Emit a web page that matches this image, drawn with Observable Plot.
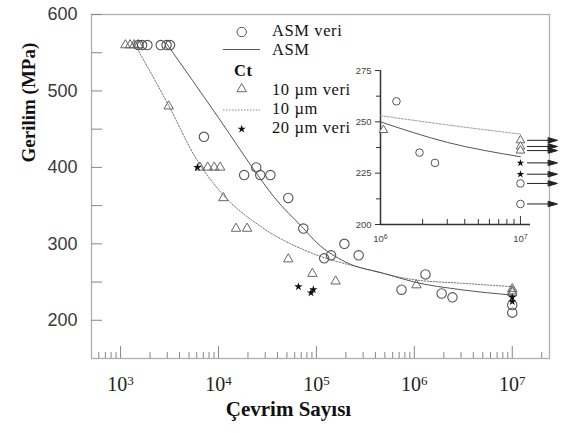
<!DOCTYPE html>
<html><head><meta charset="utf-8">
<script src="https://cdn.jsdelivr.net/npm/d3@7"></script>
<script src="https://cdn.jsdelivr.net/npm/@observablehq/plot@0.6"></script>
<style>
body{margin:0;background:#fff;}
#chart{position:relative;width:561px;height:433px;overflow:hidden;}
#chart > svg{position:absolute;}
</style></head><body><div id="chart"></div>
<script>
// ---------- data ----------
// ASM veri (circles)
const asmVeriN = [1520, 1660, 1880, 2570, 2950, 3200, 7100, 18300, 24300, 26700, 33900, 51600, 73500, 120000, 141000, 193000, 270000, 740000, 1300000, 1900000, 2450000, 1e7, 1e7];
const asmVeriS = [560, 560, 560, 560, 560, 560, 440, 390, 400, 390, 390, 360, 320, 281, 285, 300, 285, 240, 260, 235, 230, 220, 210];
// Ct 10 µm veri (triangles)
const ct10VeriN = [1120, 1250, 1380, 1520, 3100, 6450, 7760, 9040, 10400, 11200, 15100, 19600, 51600, 91000, 157000, 1050000, 1e7, 1e7, 1e7];
const ct10VeriS = [560, 560, 560, 560, 480, 400, 400, 400, 400, 360, 320, 320, 280, 261, 251, 246, 241, 238, 236];
// Ct 20 µm veri (stars)
const ct20VeriN = [6100, 65500, 88000, 93000, 1e7, 1e7];
const ct20VeriS = [400, 244, 236, 240, 230, 224.5];
// ASM fitted curve (solid)
const asmFitN = [2950, 10000, 27500, 37000, 74000, 100000, 200000, 500000, 1e6, 3e6, 1e7];
const asmFitS = [562, 465, 383, 361, 320, 302, 276, 261, 250, 240, 233];
// Ct 10 µm fitted curve (dotted)
const ct10FitN = [1380, 3100, 6000, 11000, 27500, 89000, 300000, 1e6, 3e6, 1e7];
const ct10FitS = [562, 481, 410, 365, 322, 288, 268, 253, 248.5, 244];

// ticks and texts
const xMajorTicks = [1e3, 1e4, 1e5, 1e6, 1e7];
const xMinorTicks = [600, 700, 800, 900, 2e3, 3e3, 4e3, 5e3, 6e3, 7e3, 8e3, 9e3, 2e4, 3e4, 4e4, 5e4, 6e4, 7e4, 8e4, 9e4,
  2e5, 3e5, 4e5, 5e5, 6e5, 7e5, 8e5, 9e5, 2e6, 3e6, 4e6, 5e6, 6e6, 7e6, 8e6, 9e6, 2e7];
const yLabelTicks = [200, 300, 400, 500, 600];
const yTickMarks = [200, 250, 300, 350, 400, 450, 500, 550, 600];
const insetYTicks = [200, 225, 250, 275];
const insetYMinor = [212.5, 237.5, 262.5];
const insetXMajor = [1e6, 1e7];
const insetXMinor = [2e6, 3e6, 4e6, 5e6, 6e6, 7e6, 8e6, 9e6];
const xTitle = "Çevrim Sayısı";
const yTitle = "Gerilim (MPa)";
const legendLabels = ["ASM veri", "ASM", "Ct", "10 µm veri", "10 µm", "20 µm veri"];

// ---------- tables ----------
const zip = (N, S) => N.map((n, i) => ({n, s: S[i]}));
const asmVeri = zip(asmVeriN, asmVeriS);
const ct10Veri = zip(ct10VeriN, ct10VeriS);
const ct20Veri = zip(ct20VeriN, ct20VeriS);
const asmFit = zip(asmFitN, asmFitS);
const ct10Fit = zip(ct10FitN, ct10FitS);

const serif = "'Liberation Serif', 'Times New Roman', serif";
const sans = "'Liberation Sans', Arial, sans-serif";
const expFmt = d => "10^" + Math.round(Math.log10(d));

function superscripts(svg, supSize) {
  d3.select(svg).selectAll("text").each(function () {
    const t = this.textContent;
    if (t.includes("^")) {
      const [base, exp] = t.split("^");
      const sel = d3.select(this);
      sel.text(base);
      sel.append("tspan").attr("dy", "-0.42em").attr("font-size", supSize).text(exp);
    }
  });
}

// ---------- main chart ----------
const W = 561, H = 433, mL = 91, mT = 14, mR = 12, mB = 75;
const fW = W - mL - mR, fH = H - mT - mB;
const main = Plot.plot({
  width: W, height: H, marginLeft: mL, marginTop: mT, marginRight: mR, marginBottom: mB,
  style: {fontFamily: serif, background: "white", color: "#222", overflow: "visible"},
  x: {type: "log", domain: [505, 2.4e7]},
  y: {domain: [150, 600]},
  marks: [
    Plot.frame({stroke: "#b0b0b0", strokeWidth: 1.3}),
    Plot.tickX(xMajorTicks, {x: d => d, insetTop: fH - 12, stroke: "#888"}),
    Plot.tickX(xMinorTicks, {x: d => d, insetTop: fH - 6, stroke: "#888"}),
    Plot.tickY(yTickMarks, {y: d => d, insetRight: fW - 11, stroke: "#888"}),
    Plot.axisX({ticks: xMajorTicks, tickSize: 0, tickPadding: 18, tickFormat: expFmt, fontSize: 20, fill: "#222", label: null}),
    Plot.axisY({ticks: yLabelTicks, tickSize: 0, tickPadding: 14, fontSize: 18, fontFamily: sans, fill: "#3a3a3a", label: null}),
    Plot.text([yTitle], {text: d => d, frameAnchor: "left", rotate: -90, dx: -63, dy: -24, fontSize: 19, fontWeight: "bold", fill: "#111"}),
    Plot.text([xTitle], {text: d => d, frameAnchor: "bottom", dx: -32, dy: 57, fontSize: 21, fontWeight: "bold", fill: "#111"}),
    Plot.line(ct10Fit, {x: "n", y: "s", curve: "monotone-x", stroke: "#777", strokeWidth: 1, strokeDasharray: "1.5,1.5"}),
    Plot.line(asmFit, {x: "n", y: "s", curve: "monotone-x", stroke: "#555", strokeWidth: 1}),
    Plot.dot(ct10Veri, {x: "n", y: "s", symbol: "triangle", r: 3.5, stroke: "#666", fill: "none", strokeWidth: 1}),
    Plot.dot(asmVeri, {x: "n", y: "s", symbol: "circle", r: 4.7, stroke: "#555", fill: "none", strokeWidth: 1.1}),
    Plot.dot(ct20Veri, {x: "n", y: "s", symbol: "star", r: 2.6, fill: "#111", stroke: "none"})
  ]
});
superscripts(main, 13);
main.style.left = "0px"; main.style.top = "0px";
document.getElementById("chart").appendChild(main);

// ---------- inset ----------
const iW = 221, iH = 194, iL = 40, iT = 14, iR = 31, iB = 26;
const ifH = iH - iT - iB;
const inN = d => d.n >= 1e6;
const runouts = [...asmVeri, ...ct10Veri, ...ct20Veri].filter(d => d.n >= 1e7);
const arrowShape = {
  draw(context, l) {
    context.moveTo(0, 0);
    context.lineTo(0, -l + 7);
    context.moveTo(-2.6, -l + 9);
    context.lineTo(0, -l);
    context.lineTo(2.6, -l + 9);
    context.closePath();
  }
};
const inset = Plot.plot({
  width: iW, height: iH, marginLeft: iL, marginTop: iT, marginRight: iR, marginBottom: iB,
  style: {fontFamily: sans, background: "transparent", color: "#333", overflow: "visible"},
  x: {type: "log", domain: [1e6, 1.18e7]},
  y: {domain: [200, 275]},
  marks: [
    Plot.ruleX([1e6], {stroke: "#333", strokeWidth: 1.5}),
    Plot.ruleY([200], {stroke: "#333", strokeWidth: 1.5}),
    Plot.axisY({ticks: insetYTicks, tickSize: 5, tickPadding: 4, fontSize: 9.5, fill: "#444", stroke: "#333", label: null}),
    Plot.axisY({ticks: insetYMinor, tickSize: 4, tickFormat: () => "", stroke: "#333", label: null}),
    Plot.tickX(insetXMajor, {x: d => d, insetTop: ifH - 8, stroke: "#333"}),
    Plot.tickX(insetXMinor, {x: d => d, insetTop: ifH - 5, stroke: "#333"}),
    Plot.axisX({ticks: insetXMajor, tickSize: 0, tickPadding: 11, tickFormat: expFmt, fontSize: 9.5, fill: "#444", label: null}),
    Plot.line(ct10Fit.filter(inN), {x: "n", y: "s", curve: "monotone-x", stroke: "#999", strokeWidth: 1, strokeDasharray: "2,1.5"}),
    Plot.line(asmFit.filter(inN), {x: "n", y: "s", curve: "monotone-x", stroke: "#555", strokeWidth: 1}),
    Plot.dot(ct10Veri.filter(inN), {x: "n", y: "s", symbol: "triangle", r: 3.2, stroke: "#666", fill: "white", strokeWidth: 1}),
    Plot.dot(asmVeri.filter(inN), {x: "n", y: "s", symbol: "circle", r: 3.8, stroke: "#555", fill: "none", strokeWidth: 1}),
    Plot.dot(ct20Veri.filter(inN), {x: "n", y: "s", symbol: "star", r: 2.4, fill: "#111", stroke: "none"}),
    Plot.vector(runouts, {x: "n", y: "s", length: 30, rotate: 90, anchor: "start", dx: 7, shape: arrowShape, stroke: "#222", fill: "#222", strokeWidth: 1})
  ]
});
superscripts(inset, 7);
inset.style.left = "340px"; inset.style.top = "56px";
document.getElementById("chart").appendChild(inset);

// ---------- legend ----------
const leg = d3.create("svg").attr("width", W).attr("height", H)
  .style("left", "0px").style("top", "0px").style("pointer-events", "none")
  .attr("font-family", serif).attr("font-size", 16.5).attr("fill", "#111")
  .attr("letter-spacing", "0.6px");
const sx = 241.7, tx = 272;
leg.append("circle").attr("cx", sx).attr("cy", 32).attr("r", 4.7).attr("fill", "none").attr("stroke", "#555");
leg.append("line").attr("x1", 223).attr("x2", 260).attr("y1", 49.5).attr("y2", 49.5).attr("stroke", "#555");
leg.append("path").attr("transform", `translate(${sx},89)`).attr("d", d3.symbol(d3.symbolTriangle, Math.PI * 3.5 * 3.5)())
  .attr("fill", "none").attr("stroke", "#666");
leg.append("line").attr("x1", 223).attr("x2", 260).attr("y1", 110).attr("y2", 110).attr("stroke", "#888").attr("stroke-dasharray", "1.5,1.5");
leg.append("path").attr("transform", `translate(${sx},129)`).attr("d", d3.symbol(d3.symbolStar, Math.PI * 2.6 * 2.6)())
  .attr("fill", "#111");
const legRows = [[tx, 36, 0], [tx, 55, 1], [234, 76, 2], [tx, 95, 3], [tx, 114, 4], [tx, 133, 5]];
legRows.forEach(([x, y, i]) => {
  leg.append("text").attr("x", x).attr("y", y).attr("font-weight", i === 2 ? "bold" : null).text(legendLabels[i]);
});
document.getElementById("chart").appendChild(leg.node());
</script></body></html>
